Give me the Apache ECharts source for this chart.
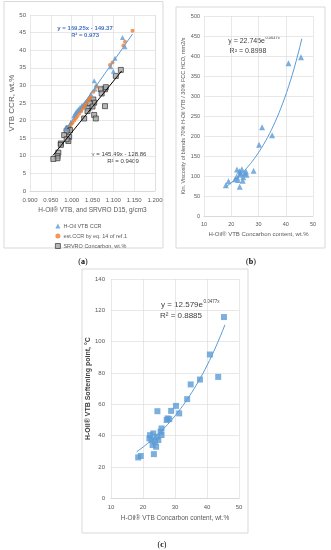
<!DOCTYPE html>
<html><head><meta charset="utf-8">
<script src="https://cdn.jsdelivr.net/npm/echarts@6/dist/echarts.min.js"></script>
<style>html,body{margin:0;padding:0;background:#fff}#c{width:331px;height:550px}</style>
</head><body><div id="c"></div>
<script>
// ---- Panel (a) data ----
const aVtbX = [1.122, 1.128, 1.104, 1.094, 1.100, 1.054, 1.059, 1.056, 1.046, 1.040, 1.033, 1.028, 1.024, 1.020, 1.016, 1.013, 1.010, 1.008, 1.005, 1.030, 1.022, 1.036, 0.985, 0.998];
const aVtbY = [43.6, 41.0, 37.7, 35.3, 34.0, 31.3, 30.1, 29.0, 27.5, 26.0, 25.2, 24.6, 24.2, 23.7, 23.2, 22.7, 22.3, 21.8, 21.3, 24.0, 23.0, 25.5, 17.8, 19.5];
const aEstX = [1.146, 1.128, 1.124, 1.098, 1.092, 1.060, 1.052, 1.045, 1.040, 1.035, 1.030, 1.026, 1.022, 1.018, 1.014, 1.010, 1.006, 1.002, 0.998, 1.042, 1.032];
const aEstY = [45.5, 42.4, 41.3, 36.5, 35.8, 29.6, 28.2, 26.6, 25.8, 25.0, 24.1, 23.4, 22.7, 22.0, 21.3, 20.7, 20.0, 19.4, 18.8, 26.2, 24.5];
const aSrvX = [1.118, 1.106, 1.080, 1.070, 1.082, 1.072, 1.080, 1.052, 1.054, 1.044, 1.040, 1.050, 1.054, 1.058, 1.030, 1.038, 0.992, 0.996, 0.988, 0.982, 0.994, 0.992, 0.988, 0.974, 0.974, 0.968, 0.966, 0.966, 0.956];
const aSrvY = [34.4, 32.7, 28.9, 28.9, 29.5, 27.7, 24.1, 26.0, 25.1, 24.9, 23.5, 24.0, 21.6, 20.6, 20.6, 22.7, 17.8, 17.3, 17.1, 15.9, 15.4, 14.2, 14.7, 13.5, 13.1, 10.9, 9.9, 9.3, 9.1];
const aXTicks = [0.900, 0.950, 1.000, 1.050, 1.100, 1.150, 1.200];
const aYTicks = [0, 5, 10, 15, 20, 25, 30, 35, 40, 45, 50];
// trendline coefficients shown on the chart
const aBlueFit = {k: 169.25, b: -149.37, x0: 0.985, x1: 1.146};
const aBlackFit = {k: 145.49, b: -128.86, x0: 0.955, x1: 1.120};

// ---- Panel (b) data ----
const bX = [45.6, 41.0, 31.3, 35.0, 30.2, 28.2, 18.0, 19.0, 23.1, 22.1, 23.9, 25.4, 22.0, 23.2, 24.4, 22.5, 24.2, 25.6, 23.4, 21.4, 24.8, 23.0];
const bY = [397, 382, 222, 202, 178, 113, 77, 87, 73, 116, 117, 111, 98, 103, 97, 90, 88, 103, 108, 92, 106, 112];
const bXTicks = [10, 20, 30, 40, 50];
const bYTicks = [0, 50, 100, 150, 200, 250, 300, 350, 400, 450, 500];
const bFit = {a: 22.745, c: 0.0647, x0: 18.0, x1: 45.9};

// ---- Panel (c) data ----
const cX = [45.3, 40.9, 43.5, 37.8, 34.9, 33.8, 30.3, 28.8, 31.3, 24.5, 27.7, 28.2, 27.4, 25.8, 25.5, 18.5, 19.3, 23.4, 22.2, 23.2, 24.3, 22.7, 23.75, 23.0, 24.1, 22.0, 24.8, 25.8];
const cY = [115.7, 91.8, 77.5, 75.8, 72.7, 63.3, 59.0, 55.8, 54.2, 55.6, 51.0, 50.5, 50.0, 44.6, 42.5, 26.1, 27.0, 28.2, 40.3, 41.4, 39.3, 37.2, 36.1, 34.0, 32.9, 38.2, 37.2, 40.4];
const cXTicks = [10, 20, 30, 40, 50];
const cYTicks = [0, 20, 40, 60, 80, 100, 120, 140];
const cFit = {a: 12.579, c: 0.0477, x0: 18.0, x1: 45.6};

const zip = (xs, ys) => xs.map((x, i) => [x, ys[i]]);
const linFit = f => [[f.x0, f.k * f.x0 + f.b], [f.x1, f.k * f.x1 + f.b]];
const expFit = f => { const out = []; const n = 40; for (let i = 0; i <= n; i++) { const x = f.x0 + (f.x1 - f.x0) * i / n; out.push([x, f.a * Math.exp(f.c * x)]); } return out; };

const GRID = '#d9d9d9', LBL = '#595959', BLUE = '#5B9BD5', ORANGE = '#ED7D31';
const FONT = 'Liberation Sans, Arial, sans-serif';

function xAx(gi, ticks, fs, margin, name, gap, fmt) {
  return {type: 'value', gridIndex: gi, min: ticks[0], max: ticks[ticks.length - 1], interval: ticks[1] - ticks[0],
    axisLine: {show: true, lineStyle: {color: GRID}}, axisTick: {show: false},
    splitLine: {show: true, lineStyle: {color: GRID, width: 0.6}},
    axisLabel: {fontSize: fs, color: LBL, margin: margin, fontFamily: FONT, formatter: fmt},
    name: name, nameLocation: 'middle', nameGap: gap, nameTextStyle: {fontSize: fs + 0.5, color: LBL, fontFamily: FONT}};
}
function yAx(gi, ticks, fs, margin, name, gap, nfs, nColor, nWeight) {
  return {type: 'value', gridIndex: gi, min: ticks[0], max: ticks[ticks.length - 1], interval: ticks[1] - ticks[0],
    axisLine: {show: false}, axisTick: {show: false},
    splitLine: {show: true, lineStyle: {color: GRID, width: 0.6}},
    axisLabel: {fontSize: fs, color: LBL, margin: margin, fontFamily: FONT},
    name: name, nameLocation: 'middle', nameGap: gap, nameRotate: 90,
    nameTextStyle: {fontSize: nfs, color: nColor || LBL, fontFamily: FONT, fontWeight: nWeight || 'normal'}};
}

const chart = echarts.init(document.getElementById('c'), null, {renderer: 'canvas'});
const box = (x, y, w, h) => ({type: 'rect', shape: {x: x, y: y, width: w, height: h}, style: {fill: 'none', stroke: GRID, lineWidth: 1}, z: -10});
const txt = (x, y, t, fs, color, align, weight, family) => ({type: 'text', x: x, y: y, style: {text: t, fontSize: fs, fill: color, align: align || 'center', verticalAlign: 'middle', fontWeight: weight || 'normal', fontFamily: family || FONT}});

chart.setOption({
  animation: false,
  grid: [
    {left: 30, top: 15, width: 125, height: 176},
    {left: 204, top: 16, width: 109, height: 200},
    {left: 111, top: 279, width: 128, height: 219.3}
  ],
  xAxis: [
    xAx(0, aXTicks, 6, 6, 'H-Oil® VTB, and SRVRO D15, g/cm3', 16, v => v.toFixed(3)),
    xAx(1, bXTicks, 5.5, 5, 'H-Oil® VTB Concarbon content, wt.%', 15.5),
    xAx(2, cXTicks, 6, 6, 'H-Oil® VTB Concarbon content, wt.%', 16.5)
  ],
  yAxis: [
    yAx(0, aYTicks, 6, 4, 'VTB CCR, wt.%', 14, 8),
    yAx(1, bYTicks, 5.5, 4, 'Kin. Viscosity of blends 70% H-Oil VTB / 30% FCC HCO, mm2/s', 18, 5.5),
    yAx(2, cYTicks, 6, 6, 'H-Oil® VTB Softening point, °C', 17.5, 7, '#404040', 'bold')
  ],
  legend: {
    orient: 'vertical', left: 50, top: 218, itemWidth: 5, itemHeight: 5, itemGap: 4,
    textStyle: {fontSize: 5.5, color: LBL, fontFamily: FONT, padding: [0, 0, 0, -2]},
    data: [
      {name: 'H-Oil VTB CCR', icon: 'triangle', itemStyle: {color: BLUE}},
      {name: 'est.CCR by eq. 14 of ref.1', icon: 'circle', itemStyle: {color: ORANGE}},
      {name: 'SRVRO Concarbon, wt.%', icon: 'rect', itemStyle: {color: '#a5a5a5', borderColor: '#222', borderWidth: 0.8}}
    ]
  },
  series: [
    {name: 'H-Oil VTB CCR', type: 'scatter', xAxisIndex: 0, yAxisIndex: 0, symbol: 'triangle', symbolSize: 5, itemStyle: {color: BLUE}, data: zip(aVtbX, aVtbY), z: 3},
    {name: 'est.CCR by eq. 14 of ref.1', type: 'scatter', xAxisIndex: 0, yAxisIndex: 0, symbol: 'circle', symbolSize: 4, itemStyle: {color: ORANGE}, data: zip(aEstX, aEstY), z: 4},
    {name: 'SRVRO Concarbon, wt.%', type: 'scatter', xAxisIndex: 0, yAxisIndex: 0, symbol: 'rect', symbolSize: 5, itemStyle: {color: '#a5a5a5', borderColor: '#222', borderWidth: 0.8}, data: zip(aSrvX, aSrvY), z: 2},
    {name: 'fitBlue', type: 'line', xAxisIndex: 0, yAxisIndex: 0, showSymbol: false, symbol: 'none', lineStyle: {color: BLUE, width: 1}, data: linFit(aBlueFit), z: 5, silent: true},
    {name: 'fitBlack', type: 'line', xAxisIndex: 0, yAxisIndex: 0, showSymbol: false, symbol: 'none', lineStyle: {color: '#000', width: 1}, data: linFit(aBlackFit), z: 5, silent: true},
    {name: 'b', type: 'scatter', xAxisIndex: 1, yAxisIndex: 1, symbol: 'triangle', symbolSize: 6, itemStyle: {color: BLUE}, data: zip(bX, bY)},
    {name: 'bFit', type: 'line', xAxisIndex: 1, yAxisIndex: 1, showSymbol: false, symbol: 'none', smooth: false, lineStyle: {color: BLUE, width: 1}, data: expFit(bFit), silent: true},
    {name: 'c', type: 'scatter', xAxisIndex: 2, yAxisIndex: 2, symbol: 'rect', symbolSize: 6, itemStyle: {color: BLUE}, data: zip(cX, cY)},
    {name: 'cFit', type: 'line', xAxisIndex: 2, yAxisIndex: 2, showSymbol: false, symbol: 'none', lineStyle: {color: BLUE, width: 1}, data: expFit(cFit), silent: true}
  ],
  graphic: [
    box(4, 1.5, 159, 246.5),
    box(176, 7, 149, 241),
    box(82, 269, 166, 264),
    txt(85, 28, 'y = 169.25x - 149.37', 6, '#4472C4', 'center', 'bold'),
    txt(85, 35.5, 'R² = 0.973', 6, '#4472C4', 'center', 'bold'),
    txt(119, 154, 'y = 145.49x - 128.86', 6, '#404040'),
    txt(123, 161.5, 'R² = 0.9409', 6, '#404040'),
    txt(265, 41, 'y = 22.745e', 7, '#404040', 'right'),
    txt(265.5, 38, '0.0647x', 4, '#404040', 'left'),
    txt(248, 51, 'R² = 0.8998', 7, '#404040'),
    txt(203, 305, 'y = 12.579e', 8, '#404040', 'right'),
    txt(203.5, 301.5, '0.0477x', 4.5, '#404040', 'left'),
    txt(181, 316, 'R² = 0.8885', 8, '#404040'),
    {type: 'text', x: 83, y: 262, style: {rich: {p: {fontSize: 8, fontFamily: 'Liberation Serif', fill: '#000'}, b: {fontSize: 8, fontFamily: 'Liberation Serif', fontWeight: 'bold', fill: '#000'}}, text: '{p|(}{b|a}{p|)}', align: 'center', verticalAlign: 'middle'}},
    {type: 'text', x: 251, y: 262, style: {rich: {p: {fontSize: 8, fontFamily: 'Liberation Serif', fill: '#000'}, b: {fontSize: 8, fontFamily: 'Liberation Serif', fontWeight: 'bold', fill: '#000'}}, text: '{p|(}{b|b}{p|)}', align: 'center', verticalAlign: 'middle'}},
    {type: 'text', x: 162, y: 545, style: {rich: {p: {fontSize: 8, fontFamily: 'Liberation Serif', fill: '#000'}, b: {fontSize: 8, fontFamily: 'Liberation Serif', fontWeight: 'bold', fill: '#000'}}, text: '{p|(}{b|c}{p|)}', align: 'center', verticalAlign: 'middle'}}
  ]
});
</script></body></html>
